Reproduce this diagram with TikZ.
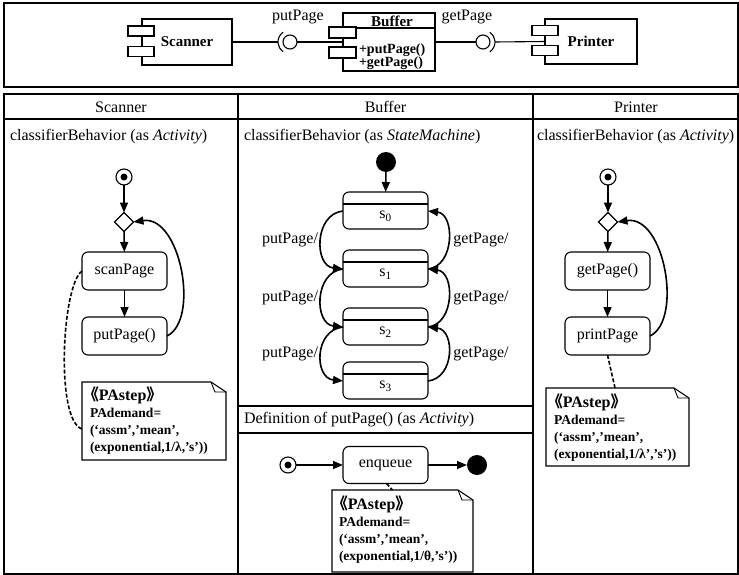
\documentclass[tikz,border=0pt]{standalone}
\usepackage{fontspec}
\setmainfont{Liberation Serif}
\newfontfamily\cjk{Noto Sans CJK SC}
\usetikzlibrary{arrows.meta,shapes.geometric}
\newcommand\drawnote[1]{%
  \draw[line width=1.1pt] (#1.north west) -- ([xshift=-15pt]#1.north east) -- ([yshift=-10pt]#1.north east) -- (#1.south east) -- (#1.south west) -- cycle;
  \draw[line width=0.9pt] ([xshift=-15pt]#1.north east) -- ([xshift=-11pt,yshift=-10pt]#1.north east) -- ([yshift=-10pt]#1.north east);}
\newcommand\pastep{{\fontsize{16}{17}\selectfont{\cjk\hspace*{-0.45em}《}PAstep{\cjk 》}}}
\begin{document}
\begin{tikzpicture}[x=1pt,y=-1pt,
  every node/.style={inner sep=0pt, outer sep=0pt},
  border/.style={line width=1.4pt},
  comp/.style={draw, line width=1.1pt, font=\bfseries\fontsize{15}{17}\selectfont},
  tabbox/.style={draw, fill=white, line width=1.1pt, minimum width=26pt, minimum height=10pt},
  act/.style={draw, rounded corners=6pt, line width=1.1pt, minimum width=85pt, minimum height=38pt, font=\fontsize{16}{18}\selectfont},
  stbox/.style={draw, rounded corners=6pt, line width=1.1pt, minimum width=85pt, minimum height=37pt},
  flow/.style={-{Triangle[length=10pt,width=8pt]}, line width=1.6pt},
  dep/.style={line width=1.6pt, dash pattern=on 4pt off 2pt},
  initnode/.style={circle, draw, line width=1.1pt, minimum size=16pt},
  finalnode/.style={circle, fill=black, minimum size=20pt},
  choice/.style={diamond, draw, line width=1.1pt, minimum width=19pt, minimum height=19pt},
  notebox/.style={minimum width=#1},
  notetext/.style={align=left, font=\bfseries\fontsize{13.5}{17}\selectfont},
  lbl/.style={font=\fontsize{16}{19}\selectfont},
  toplbl/.style={font=\fontsize{16}{18}\selectfont},
]
\useasboundingbox (0,0) rectangle (739,575);

% ---------- top frame ----------
\draw[border] (4,3) rectangle (738,87);
\node[comp, minimum width=90pt, minimum height=46pt] (scanner) at (187,42) {Scanner};
\node[tabbox] (scT1) at (141,31) {};
\node[tabbox] (scT2) at (141,51.5) {};
\node[comp, minimum width=92pt, minimum height=58pt] (buf) at (389,42) {};
\draw[line width=1.1pt] ([yshift=-15pt]buf.north west) -- ([yshift=-15pt]buf.north east);
\node[tabbox, minimum width=27pt, minimum height=11pt] (bfT1) at (342.5,32.5) {};
\node[tabbox, minimum width=27pt, minimum height=11pt] (bfT2) at (342.5,52.5) {};
\node[font=\bfseries\fontsize{15}{17}\selectfont] (bufname) at (392,21) {Buffer};
\node[anchor=west, font=\bfseries\fontsize{14}{16}\selectfont] (bufop1) at (359,50) {+putPage()};
\node[anchor=west, font=\bfseries\fontsize{14}{16}\selectfont] (bufop2) at (359,63) {+getPage()};
\node[comp, minimum width=92pt, minimum height=45pt] (printer) at (591,41.5) {Printer};
\node[tabbox] (prT1) at (545,30.5) {};
\node[tabbox] (prT2) at (545,50.5) {};

\node[circle, draw, line width=1.1pt, minimum size=14pt] (ballL) at (290,42) {};
\node[circle, draw, line width=1.1pt, minimum size=14pt] (ballR) at (483,42) {};
\draw[line width=1.1pt] ([shift={(125:12pt)}]ballL.center) arc[start angle=125, end angle=235, radius=12pt];
\draw[line width=1.1pt] ([shift={(-55:12pt)}]ballR.center) arc[start angle=-55, end angle=55, radius=12pt];
\coordinate (sockL) at ([xshift=-12pt]ballL.center);
\coordinate (sockR) at ([xshift=12pt]ballR.center);
\draw[line width=1.1pt] (scanner.east) -- (sockL);
\draw[line width=1.1pt] (ballL.east) -- (buf.west);
\draw[line width=1.1pt] (buf.east) -- (ballR.west);
\draw[line width=1.1pt] (sockR) -- (printer.west);
\node[toplbl] (lblPut) at (298,17) {putPage};
\node[toplbl] (lblGet) at (467,17) {getPage};

% ---------- table ----------
\draw[border] (4,94) rectangle (738,574);
\draw[border] (238,94) -- (238,574);
\draw[border] (533,94) -- (533,574);
\draw[border] (4,119) -- (738,119);
\node[lbl] (hS) at (121,107) {Scanner};
\node[lbl] (hB) at (385.5,107) {Buffer};
\node[lbl] (hP) at (636,107) {Printer};
\node[lbl, anchor=west] (cbS) at (10,137) {classifierBehavior (as \textit{Activity})};
\node[lbl, anchor=west] (cbB) at (244,137) {classifierBehavior (as \textit{StateMachine})};
\node[lbl, anchor=west] (cbP) at (537,137) {classifierBehavior (as \textit{Activity})};

% ---------- Scanner activity ----------
\node[initnode] (sInit) at (124,177) {};
\fill (sInit.center) circle[radius=3.5pt];
\node[choice] (sDia) at (124,222) {};
\node[act] (sScan) at (124.5,271) {scanPage};
\node[act] (sPut) at (124.5,336) {putPage()};
\draw[flow] (sInit) -- (sDia);
\draw[flow] (sDia) -- (sScan);
\draw[flow] (sScan) -- (sPut);
\draw[flow] (sPut.east) .. controls +(33,-16) and +(47,-7) .. (sDia.east);
\node[notebox=144pt, minimum height=78pt] (nS) at (154,421) {};
\drawnote{nS}
\node[notetext, anchor=north west] (nSt) at ([shift={(8pt,-5pt)}]nS.north west) {\pastep\\PAdemand=\\(‘assm’,’mean’,\\(exponential,1/λ,’s’))};
\draw[dep] (sScan.west) .. controls +(-20,14) and +(-27,-9) .. ([yshift=-8pt]nS.west);

% ---------- Buffer state machine ----------
\node[finalnode] (bInit) at (386,162) {};
\foreach \n/\t in {0/192,1/250,2/308,3/362}{
  \node[stbox] (s\n) at (385.5,\t+18.5) {};
  \draw[line width=1.1pt] ([yshift=-12pt]s\n.north west) -- ([yshift=-12pt]s\n.north east);
  \node[font=\fontsize{16}{18}\selectfont] (s\n t) at ([yshift=-24.5pt]s\n.north) {s\textsubscript{\n}};
}
\draw[flow] (bInit) -- (s0);
\foreach \a/\b in {0/1,1/2,2/3}{
  \draw[flow] ([yshift=-19pt]s\a.north west) .. controls +(-29,3) and +(-29,-3) .. ([yshift=-19pt]s\b.north west);
  \draw[flow] ([yshift=-19pt]s\b.north east) .. controls +(27,-3) and +(27,3) .. ([yshift=-19pt]s\a.north east);
}
\node[lbl] (pl0) at (290,240) {putPage/};
\node[lbl] (pl1) at (290,298) {putPage/};
\node[lbl] (pl2) at (290,354) {putPage/};
\node[lbl] (gl0) at (481,240) {getPage/};
\node[lbl] (gl1) at (481,298) {getPage/};
\node[lbl] (gl2) at (481,354) {getPage/};

% ---------- Definition of putPage ----------
\draw[border] (238,406) -- (533,406);
\draw[border] (238,433) -- (533,433);
\node[lbl, anchor=west] (defB) at (244,420) {Definition of putPage() (as \textit{Activity})};
\node[initnode] (eInit) at (288,465) {};
\fill (eInit.center) circle[radius=3.5pt];
\node[act, minimum height=37pt] (enq) at (385.5,465) {enqueue};
\node[finalnode] (eFin) at (477,465) {};
\draw[flow] (eInit) -- (enq);
\draw[flow] (enq) -- (eFin);
\node[notebox=141pt, minimum height=82pt] (nB) at (402.5,531) {};
\drawnote{nB}
\node[notetext, anchor=north west] (nBt) at ([shift={(7pt,-6pt)}]nB.north west) {\pastep\\PAdemand=\\(‘assm’,’mean’,\\(exponential,1/θ,’s’))};
\draw[dep] ([xshift=1pt]enq.south) -- ([xshift=-10pt]nB.north);

% ---------- Printer activity ----------
\node[initnode] (pInit) at (608,177) {};
\fill (pInit.center) circle[radius=3.5pt];
\node[choice] (pDia) at (608,222) {};
\node[act] (pGet) at (607.5,271) {getPage()};
\node[act] (pPrint) at (607.5,336) {printPage};
\draw[flow] (pInit) -- (pDia);
\draw[flow] (pDia) -- (pGet);
\draw[flow] (pGet) -- (pPrint);
\draw[flow] (pPrint.east) .. controls +(33,-16) and +(47,-7) .. (pDia.east);
\node[notebox=143pt, minimum height=78pt] (nP) at (617.5,427) {};
\drawnote{nP}
\node[notetext, anchor=north west] (nPt) at ([shift={(8pt,-6pt)}]nP.north west) {\pastep\\PAdemand=\\(‘assm’,’mean’,\\(exponential,1/λ’,’s’))};
\draw[dep] (pPrint.south) -- ([xshift=-2.5pt]nP.north);
\end{tikzpicture}
\end{document}
